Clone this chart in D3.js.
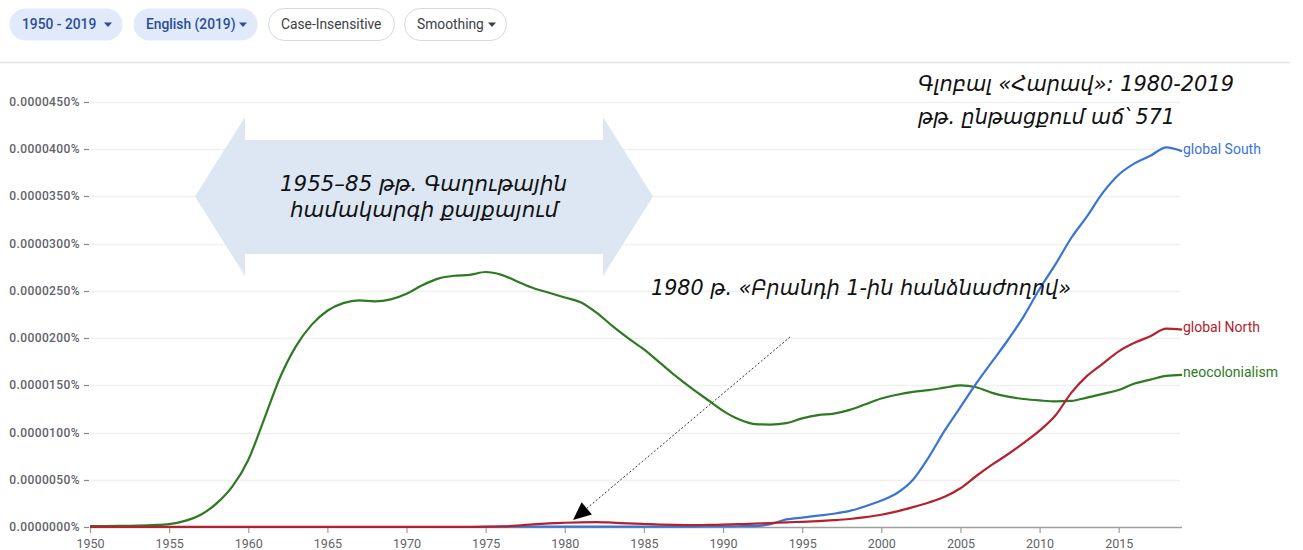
<!DOCTYPE html>
<html>
<head>
<meta charset="utf-8">
<script src="https://cdn.jsdelivr.net/npm/d3@7"></script>
<style>
  html, body { margin: 0; padding: 0; background: #ffffff; }
  svg { display: block; }
</style>
</head>
<body>
<svg id="chart" width="1303" height="550"></svg>
<script>
// ---------------- DATA ----------------
const yearStart = 1950;
const yearEnd = 2019;
const years = d3.range(yearStart, yearEnd + 1);

// values in millionths of a percent (1 = 0.0000010%)
const neocolonialism = [
  0.10, 0.10, 0.12, 0.15, 0.20, 0.30, 0.65, 1.30, 2.50, 4.30,
  7.10, 11.4, 15.8, 19.1, 21.4, 22.9, 23.7, 24.0, 23.9, 24.1,
  24.7, 25.6, 26.3, 26.6, 26.7, 27.0, 26.7, 26.0, 25.3, 24.8,
  24.3, 23.8, 22.7, 21.3, 20.0, 18.8, 17.4, 16.0, 14.7, 13.5,
  12.3, 11.4, 10.9, 10.85, 11.0, 11.5, 11.85, 12.0, 12.4, 13.0,
  13.6, 14.0, 14.3, 14.5, 14.75, 15.0, 14.8, 14.2, 13.8, 13.55,
  13.4, 13.3, 13.35, 13.7, 14.1, 14.5, 15.2, 15.6, 16.0, 16.1
];
const globalNorth = [
  0.02, 0.02, 0.02, 0.02, 0.02, 0.02, 0.02, 0.02, 0.02, 0.02,
  0.02, 0.02, 0.02, 0.02, 0.02, 0.02, 0.02, 0.02, 0.02, 0.02,
  0.02, 0.02, 0.02, 0.02, 0.02, 0.03, 0.06, 0.15, 0.28, 0.38,
  0.45, 0.50, 0.52, 0.46, 0.38, 0.32, 0.26, 0.22, 0.20, 0.22,
  0.25, 0.30, 0.35, 0.42, 0.50, 0.55, 0.62, 0.72, 0.85, 1.05,
  1.30, 1.65, 2.10, 2.60, 3.20, 4.10, 5.40, 6.60, 7.70, 8.90,
  10.2, 11.8, 14.2, 16.0, 17.3, 18.6, 19.5, 20.2, 21.0, 20.9
];
const globalSouth = [
  0.00, 0.00, 0.00, 0.00, 0.00, 0.00, 0.00, 0.00, 0.00, 0.00,
  0.00, 0.00, 0.00, 0.00, 0.00, 0.00, 0.00, 0.00, 0.00, 0.00,
  0.00, 0.00, 0.00, 0.00, 0.00, 0.02, 0.03, 0.04, 0.05, 0.05,
  0.05, 0.05, 0.05, 0.05, 0.05, 0.05, 0.05, 0.05, 0.05, 0.06,
  0.07, 0.08, 0.10, 0.30, 0.80, 1.00, 1.20, 1.40, 1.70, 2.20,
  2.80, 3.60, 5.00, 7.40, 10.2, 12.7, 15.2, 17.5, 19.8, 22.3,
  25.2, 27.8, 30.6, 32.9, 35.4, 37.3, 38.5, 39.3, 40.2, 39.8
];

const seriesNames = ["global South", "global North", "neocolonialism"];
const seriesColors = ["#3a74d3", "#b3222e", "#2e7a22"];
const seriesValues = [globalSouth, globalNorth, neocolonialism];

const yTicks = [0, 5, 10, 15, 20, 25, 30, 35, 40, 45];
const xTicks = [1950, 1955, 1960, 1965, 1970, 1975, 1980, 1985, 1990, 1995, 2000, 2005, 2010, 2015];

const buttonLabels = ["1950 - 2019", "English (2019)", "Case-Insensitive", "Smoothing"];

const boxText = ["1955–85 թթ. Գաղութային", "համակարգի քայքայում"];
const brandtText = "1980 թ. «Բրանդի 1-ին հանձնաժողով»";
const southText = ["Գլոբալ «Հարավ»: 1980-2019", "թթ. ընթացքում աճ՝ 571"];

// ---------------- DRAW ----------------
const svg = d3.select("#chart");

const x = d3.scaleLinear().domain([yearStart, yearEnd]).range([90, 1182]);
const y = d3.scaleLinear().domain([0, 45]).range([527, 102]);
const fmtPct = v => d3.format(".7f")(v * 1e-6) + "%";

// top buttons
const btns = [
  {x: 9, w: 114, filled: true, caret: true},
  {x: 133, w: 125, filled: true, caret: true},
  {x: 268, w: 127, filled: false, caret: false},
  {x: 404, w: 103, filled: false, caret: true}
];
btns.forEach((b, i) => {
  const g = svg.append("g");
  g.append("rect").attr("x", b.x + 0.5).attr("y", 8.5).attr("width", b.w - 1).attr("height", 32)
    .attr("rx", 16).attr("fill", b.filled ? "#e1eafb" : "#ffffff")
    .attr("stroke", b.filled ? "none" : "#d6d9de").attr("stroke-width", 1);
  const tx = b.x + 13;
  g.append("text").attr("x", tx).attr("y", 29)
    .attr("font-family", "Roboto, sans-serif").attr("font-size", 13.8)
    .attr("font-weight", b.filled ? 500 : 400)
    .attr("fill", b.filled ? "#2a4d9b" : "#3c4043")
    .text(buttonLabels[i]);
  if (b.caret) {
    const cx = b.x + b.w - 15, cy = 24.5;
    g.append("path").attr("d", `M${cx-4},${cy-2}L${cx+4},${cy-2}L${cx},${cy+2.5}Z`)
      .attr("fill", b.filled ? "#2a4d9b" : "#3c4043");
  }
});
svg.append("line").attr("x1", 0).attr("x2", 1290).attr("y1", 62.5).attr("y2", 62.5)
  .attr("stroke", "#e3e3e3").attr("stroke-width", 1.5);

// gridlines
svg.append("g").selectAll("line").data(yTicks.filter(d => d > 0)).join("line")
  .attr("x1", 90).attr("x2", 1180)
  .attr("y1", d => Math.round(y(d)) + 0.5).attr("y2", d => Math.round(y(d)) + 0.5)
  .attr("stroke", "#f0f0f0").attr("stroke-width", 1.5);

// y axis labels
const yAxisG = svg.append("g");
yAxisG.selectAll("text").data(yTicks).join("text")
  .attr("x", 80).attr("y", d => y(d) + 4)
  .attr("text-anchor", "end")
  .attr("font-family", "Roboto, sans-serif").attr("font-size", 12).attr("font-weight", 500)
  .attr("letter-spacing", 0.4)
  .attr("fill", "#5f6368")
  .text(fmtPct);
yAxisG.selectAll("line").data(yTicks).join("line")
  .attr("x1", 84).attr("x2", 89)
  .attr("y1", d => Math.round(y(d)) + 0.5).attr("y2", d => Math.round(y(d)) + 0.5)
  .attr("stroke", "#888").attr("stroke-width", 1.2);

// x axis
const xAxis = d3.axisBottom(x).tickValues(xTicks).tickFormat(d3.format("d")).tickSize(6).tickPadding(4);
const xg = svg.append("g").attr("transform", `translate(0,${y(0)})`).call(xAxis);
xg.select(".domain").attr("stroke", "#9e9e9e").attr("stroke-width", 1.5)
  .attr("d", `M${x(yearStart)},0.5H${x(yearEnd)}`);
xg.selectAll(".tick line").attr("stroke", "#9e9e9e").attr("stroke-width", 1.2);
xg.selectAll(".tick text").attr("font-family", "Roboto, sans-serif").attr("font-size", 12.5)
  .attr("fill", "#5f6368").attr("dy", "0.85em");

// annotation: double arrow box
const bx0 = 195, bx1 = 653, bHead = 50, bTop = 117, bBot = 276, sTop = 140, sBot = 254;
const bMid = (bTop + bBot) / 2;
svg.append("path")
  .attr("d", `M${bx0},${bMid}L${bx0+bHead},${bTop}L${bx0+bHead},${sTop}L${bx1-bHead},${sTop}L${bx1-bHead},${bTop}L${bx1},${bMid}L${bx1-bHead},${bBot}L${bx1-bHead},${sBot}L${bx0+bHead},${sBot}L${bx0+bHead},${bBot}Z`)
  .attr("fill", "#dce7f3");

// lines
const line = d3.line()
  .x((d, i) => x(years[i]))
  .y(d => y(d))
  .curve(d3.curveMonotoneX);

const order = [2, 0, 1];
order.forEach(k => {
  svg.append("path").datum(seriesValues[k])
    .attr("d", line)
    .attr("fill", "none")
    .attr("stroke", seriesColors[k])
    .attr("stroke-width", 2.2)
    .attr("stroke-linejoin", "round");
});

// series labels
seriesNames.forEach((n, k) => {
  const vals = seriesValues[k];
  svg.append("text")
    .attr("x", x(yearEnd) + 1)
    .attr("y", y(vals[vals.length - 1]) - 2)
    .attr("dy", "0.32em")
    .attr("font-family", "Roboto, sans-serif").attr("font-size", 14)
    .attr("fill", seriesColors[k])
    .text(n);
});

// annotation texts
const armFont = "'DejaVu Sans', sans-serif";
function annot(str, xx, yy, len, size) {
  svg.append("text").attr("x", xx).attr("y", yy)
    .attr("font-family", armFont).attr("font-style", "italic")
    .attr("font-size", size).attr("fill", "#111")
    .attr("textLength", len).attr("lengthAdjust", "spacingAndGlyphs")
    .text(str);
}
annot(boxText[0], 280, 191, 287, 22);
annot(boxText[1], 290, 217, 268, 22);
annot(brandtText, 651, 295, 420, 21);
annot(southText[0], 918, 91, 316, 22);
annot(southText[1], 918, 124, 257, 22);

// dotted arrow
const ax0 = 790, ay0 = 337, ax1 = 573, ay1 = 520;
const ang = Math.atan2(ay1 - ay0, ax1 - ax0);
const headLen = 18, headW = 8;
const hbx = ax1 - headLen * Math.cos(ang), hby = ay1 - headLen * Math.sin(ang);
svg.append("line").attr("x1", ax0).attr("y1", ay0).attr("x2", hbx).attr("y2", hby)
  .attr("stroke", "#333").attr("stroke-width", 1).attr("stroke-dasharray", "2,2");
const px = -Math.sin(ang), py = Math.cos(ang);
svg.append("path")
  .attr("d", `M${ax1},${ay1}L${hbx + px*headW},${hby + py*headW}L${hbx - px*headW},${hby - py*headW}Z`)
  .attr("fill", "#000");
</script>
</body>
</html>
